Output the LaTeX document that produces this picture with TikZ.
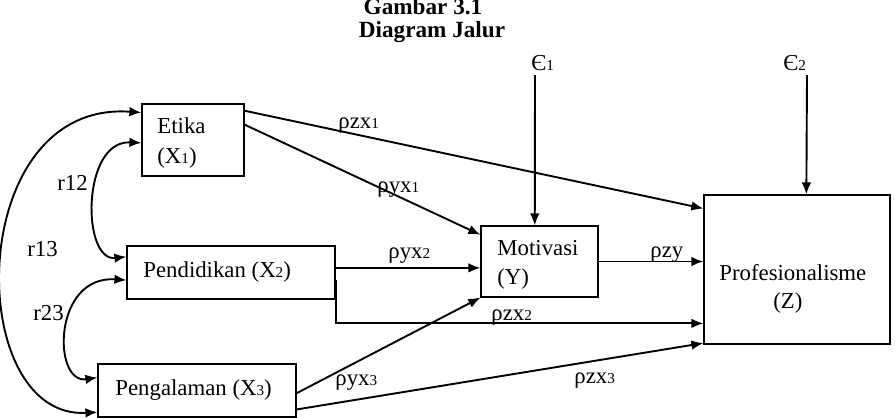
\documentclass[tikz,border=0pt]{standalone}
\usepackage{fontspec}
\setmainfont{Liberation Serif}
\usetikzlibrary{arrows.meta,calc}
\newcommand{\sbs}[1]{{\fontsize{7.6}{8}\selectfont #1}}
\tikzset{
  box/.style={draw, line width=0.6pt, inner sep=0pt, minimum width=#1},
  txt/.style={inner sep=0pt, anchor=base west, font=\fontsize{11.4}{14}\selectfont},
  lbl/.style={inner sep=0pt, anchor=base west, font=\fontsize{11.4}{14}\selectfont},
  path arrow/.style={line width=0.95pt, -{Latex[length=6pt,width=4.8pt]}},
  corr arrow/.style={line width=0.95pt, {Latex[length=6pt,width=4.8pt]}-{Latex[length=6pt,width=4.8pt]}}
}
\begin{document}
\begin{tikzpicture}[x=0.5pt,y=-0.5pt]
\useasboundingbox (0,0) rectangle (895,418);

% title
\node[inner sep=0pt, anchor=base, font=\bfseries\fontsize{11.6}{14}\selectfont] (title1) at (423,14) {Gambar 3.1};
\node[inner sep=0pt, anchor=base, font=\bfseries\fontsize{11.6}{14}\selectfont] (title2) at (432,37) {Diagram Jalur};

% variable boxes
\node[box=51pt, minimum height=36pt] (x1) at (193,140) {};
\node[box=104pt, minimum height=26.5pt] (x2) at (231,272.5) {};
\node[box=99pt, minimum height=26.5pt] (x3) at (197,390.5) {};
\node[box=58.5pt, minimum height=35.5pt] (y) at (539.5,261.5) {};
\node[box=93pt, minimum height=74.5pt] (z) at (797,269.5) {};

% box texts
\node[txt] (x1a) at (157,133) {Etika};
\node[txt] (x1b) at (157,163) {(X\sbs{1})};
\node[txt] (x2t) at (143,277) {Pendidikan (X\sbs{2})};
\node[txt] (x3t) at (115,395) {Pengalaman (X\sbs{3})};
\node[txt] (ya) at (497,255) {Motivasi};
\node[txt] (yb) at (497,284) {(Y)};
\node[txt] (za) at (719,280) {Profesionalisme};
\node[txt] (zb) at (773,308) {(Z)};

% residual terms
\node[lbl] (e1) at (531,70) {Є\sbs{1}};
\node[lbl] (e2) at (783,70) {Є\sbs{2}};
\coordinate (e1s) at (535,75);
\coordinate (e2s) at (807,75);
\draw[path arrow] (e1s) -- ($(y.north west)!0.46!(y.north east)$);
\draw[path arrow] (e2s) -- ($(z.north west)!0.55!(z.north east)$);

% direct paths
\draw[path arrow] ($(x1.north east)!0.1!(x1.south east)$) -- ($(z.north west)!0.094!(z.south west)$);
\draw[path arrow] ($(x1.north east)!0.29!(x1.south east)$) -- ($(y.north west)!0.13!(y.south west)$);
\coordinate (p2y) at ($(x2.north east)!0.415!(x2.south east)$);
\draw[path arrow] (p2y) -- (y.west |- p2y);
\coordinate (p2z) at ($(x2.north east)!0.64!(x2.south east)$);
\coordinate (q2z) at ($(z.north west)!0.859!(z.south west)$);
\draw[path arrow] (p2z) |- (q2z);
\draw[path arrow] (y.east) -- (z.west |- y.east);
\draw[path arrow] ($(x3.north east)!0.55!(x3.south east)$) -- (y.south west);
\draw[path arrow] ($(x3.north east)!0.85!(x3.south east)$) -- ($(z.north west)!0.99!(z.south west)$);

% path coefficients
\node[lbl] (pzx1) at (338,128) {ρzx\sbs{1}};
\node[lbl] (pyx1) at (377,192) {ρyx\sbs{1}};
\node[lbl] (pyx2) at (388,258) {ρyx\sbs{2}};
\node[lbl] (pzy) at (650,257) {ρzy};
\node[lbl] (pzx2) at (491,320) {ρzx\sbs{2}};
\node[lbl] (pyx3) at (335,385) {ρyx\sbs{3}};
\node[lbl] (pzx3) at (574,383) {ρzx\sbs{3}};

% correlations between exogenous variables
\draw[corr arrow] ($(x1.north west)!0.54!(x1.south west)$) .. controls +(-60,-3) and +(-45,5) .. ($(x2.north west)!0.21!(x2.south west)$);
\draw[corr arrow] ($(x1.north west)!0.125!(x1.south west)$) .. controls +(-178,-13) and +(-134,8) .. ($(x3.north west)!0.9!(x3.south west)$);
\draw[corr arrow] ($(x2.north west)!0.64!(x2.south west)$) .. controls +(-74,-5) and +(-45,7) .. ($(x3.north west)!0.26!(x3.south west)$);
\node[lbl] (r12) at (57,190) {r12};
\node[lbl] (r13) at (27,256) {r13};
\node[lbl] (r23) at (33,320) {r23};
\end{tikzpicture}
\end{document}
